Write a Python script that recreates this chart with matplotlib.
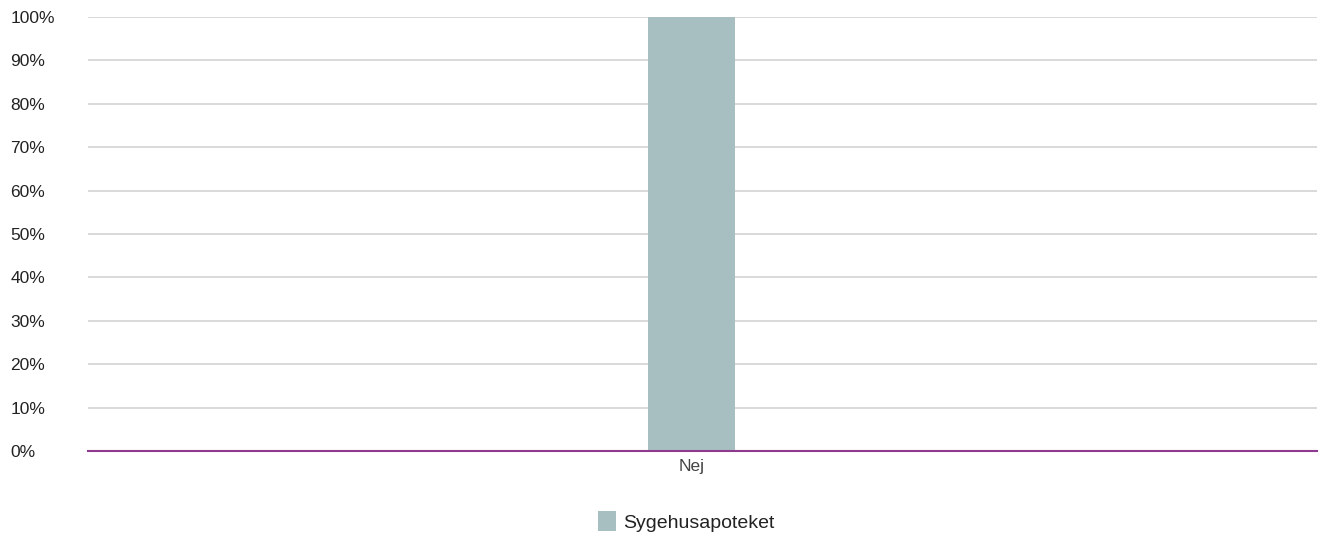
import matplotlib.pyplot as plt
from matplotlib.ticker import FuncFormatter

categories = ['Nej']
values = [100]
series_name = 'Sygehusapoteket'
y_ticks = [0, 10, 20, 30, 40, 50, 60, 70, 80, 90, 100]

plt.rcParams['font.family'] = ['Liberation Sans', 'DejaVu Sans']

fig = plt.figure(figsize=(13.23, 5.38), dpi=100)
ax = fig.add_axes([0.0665, 0.1617, 0.929, 0.8067])

x = list(range(len(categories)))
ax.bar(x, values, width=0.0708, color='#a8bfc1', label=series_name, zorder=2)

ax.set_ylim(0, 100)
ax.set_xlim(-0.491, 0.509)
ax.set_yticks(y_ticks)
ax.yaxis.set_major_formatter(FuncFormatter(lambda v, p: f'{int(v)}%'))
ax.set_xticks(x)
ax.set_xticklabels(categories, fontsize=12.5, color='#444444')

ax.grid(axis='y', color='#d3d3d3', linewidth=1.2, zorder=0)
for s in ['top', 'right', 'left']:
    ax.spines[s].set_visible(False)
ax.spines['bottom'].set_color('#8e3a8e')
ax.spines['bottom'].set_linewidth(1.5)
ax.spines['bottom'].set_zorder(3)

# labels start at about x = 10 px, left aligned
ax.tick_params(axis='y', length=0, labelsize=12.5, pad=56, labelcolor='#222222')
for lab in ax.get_yticklabels():
    lab.set_horizontalalignment('left')
ax.tick_params(axis='x', length=0, pad=6)

fig.legend(loc='center', bbox_to_anchor=(0.5185, 0.031), frameon=False,
           fontsize=14, handlelength=0.93, handleheight=1.2, handletextpad=0.35,
           labelcolor='#222222')

fig.savefig('out.png', dpi=100)
